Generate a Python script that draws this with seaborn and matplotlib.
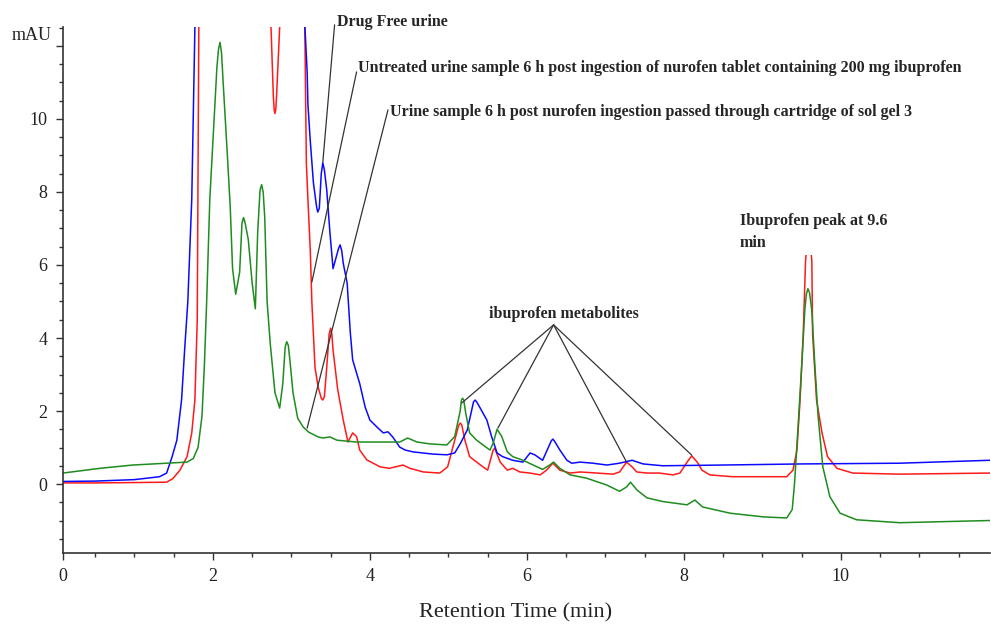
import matplotlib
matplotlib.use('Agg')
import matplotlib.pyplot as plt
from matplotlib.ticker import MultipleLocator
import seaborn as sns

# retention time (min) and absorbance (mAU)
# values far above 12.5 are off scale (clipped at the top of the axis)
t_free = [0.09, 0.5, 1.0, 1.32, 1.41, 1.48, 1.54, 1.60, 1.64, 1.68, 1.73, 1.77, 1.80, 2.45,
          3.12, 3.17, 3.20, 3.21, 3.24, 3.28, 3.32, 3.335, 3.355, 3.38, 3.40, 3.42, 3.45,
          3.49, 3.53, 3.60, 3.62, 3.64, 3.66,
          3.71, 3.75, 3.78, 3.87, 3.94, 4.00, 4.09, 4.17, 4.23, 4.29, 4.38, 4.45, 4.55, 4.80,
          4.98, 5.08, 5.15, 5.24, 5.32, 5.34, 5.36, 5.40, 5.49, 5.55, 5.62, 5.69, 5.82, 5.95,
          6.04, 6.10, 6.20, 6.31, 6.33, 6.35, 6.42, 6.51, 6.57, 6.68, 6.84, 7.02, 7.18, 7.34,
          7.48, 7.73, 8.5, 9.5, 10.75, 11.9]
mau_free = [0.07, 0.08, 0.12, 0.2, 0.3, 0.75, 1.2, 2.3, 3.7, 5.0, 7.8, 12.5, 20, 60,
            20, 12.6, 11.3, 10.4, 9.4, 8.25, 7.6, 7.45, 7.55, 8.5, 8.8, 8.6, 8.05,
            6.9, 5.9, 6.45, 6.55, 6.4, 6.05,
            5.5, 4.15, 3.4, 2.75, 2.1, 1.75, 1.56, 1.4, 1.43, 1.29, 1.01, 0.93, 0.88, 0.82,
            0.8, 0.85, 1.1, 1.48, 2.25, 2.3, 2.25, 2.1, 1.75, 1.3, 0.85, 0.75, 0.65, 0.6,
            0.85, 0.8, 0.65, 1.18, 1.23, 1.18, 0.93, 0.65, 0.57, 0.6, 0.57, 0.52, 0.57, 0.65,
            0.55, 0.5, 0.52, 0.55, 0.57, 0.65]

t_untreated = [0.09, 0.5, 1.0, 1.41, 1.49, 1.58, 1.67, 1.73, 1.77, 1.80, 1.82, 1.85, 2.3,
               2.71, 2.74, 2.77, 2.78, 2.79, 2.80, 2.81, 2.85, 2.88, 3.0, 3.14, 3.17, 3.19,
               3.21, 3.24, 3.26, 3.30, 3.34, 3.38, 3.40, 3.42, 3.45, 3.48, 3.50, 3.515, 3.53,
               3.59, 3.66, 3.72, 3.78, 3.83, 3.87,
               3.96, 4.13, 4.25, 4.42, 4.51, 4.68, 4.89, 4.99, 5.08, 5.13, 5.15, 5.17, 5.21,
               5.27, 5.36, 5.44, 5.50, 5.57, 5.59, 5.66, 5.75, 5.82, 5.91, 6.04, 6.17, 6.25,
               6.33, 6.42, 6.55, 6.68, 6.89, 7.10, 7.18, 7.27, 7.34, 7.40, 7.53, 7.69, 7.86,
               7.95, 8.04, 8.10, 8.17, 8.23, 8.33, 8.62, 9.31, 9.39, 9.44, 9.48, 9.52, 9.55,
               9.59, 9.63, 9.64, 9.69, 9.76, 9.83, 9.95, 10.15, 10.75, 11.9]
mau_untreated = [0.03, 0.03, 0.04, 0.05, 0.15, 0.38, 0.75, 1.4, 2.3, 4.5, 12.5, 25, 60,
                 25, 12.5, 10.6, 10.25, 10.15, 10.25, 10.6, 12.5, 25, 50, 25, 12.6, 8.8,
                 7.8, 6.4, 5.0, 3.2, 2.66, 2.35, 2.3, 2.4, 3.2, 4.1, 4.27, 4.1, 3.67,
                 2.58, 1.75, 1.15, 1.4, 1.3, 0.93,
                 0.66, 0.47, 0.43, 0.52, 0.43, 0.33, 0.3, 0.47, 1.2, 1.6, 1.67, 1.62, 1.2,
                 0.75, 0.6, 0.47, 0.38, 0.93, 0.98, 0.6, 0.38, 0.43, 0.33, 0.3, 0.25, 0.38,
                 0.57, 0.38, 0.3, 0.33, 0.3, 0.27, 0.33, 0.6, 0.47, 0.33, 0.3, 0.3, 0.25,
                 0.3, 0.6, 0.77, 0.6, 0.38, 0.25, 0.2, 0.2, 0.38, 0.93, 2.3, 4.1, 6.1,
                 7.2, 6.1, 4.1, 2.3, 1.4, 0.75, 0.43, 0.3, 0.27, 0.3]

t_solgel = [0.09, 0.56, 0.98, 1.41, 1.67, 1.75, 1.81, 1.86, 1.89, 1.92, 1.96, 2.00, 2.05,
            2.07, 2.09, 2.11, 2.13, 2.18, 2.22, 2.25, 2.29, 2.34, 2.37, 2.39, 2.41, 2.45,
            2.50, 2.54, 2.57, 2.60, 2.62, 2.64, 2.66, 2.69, 2.73, 2.79, 2.85, 2.89, 2.92,
            2.94, 2.96, 2.98, 3.02, 3.08, 3.15, 3.22, 3.34,
            3.40, 3.49, 3.58, 3.83, 4.38, 4.48, 4.60, 4.76, 4.98, 5.08, 5.15, 5.165, 5.18,
            5.195, 5.22, 5.27, 5.36, 5.44, 5.53, 5.57, 5.62, 5.68, 5.75, 5.82, 5.95, 6.08,
            6.20, 6.29, 6.34, 6.42, 6.55, 6.76, 7.02, 7.18, 7.27, 7.32, 7.40, 7.53, 7.73,
            8.04, 8.14, 8.24, 8.59, 9.01, 9.31, 9.38, 9.41, 9.45, 9.50, 9.54, 9.56, 9.58,
            9.60, 9.63, 9.67, 9.71, 9.77, 9.86, 9.99, 10.20, 10.75, 11.9]
mau_solgel = [0.3, 0.43, 0.52, 0.57, 0.6, 0.7, 1.0, 1.85, 3.2, 5.0, 7.8, 9.4, 11.4,
              11.9, 12.1, 11.8, 11.0, 9.15, 7.6, 5.9, 5.2, 5.8, 7.15, 7.3, 7.15, 6.7,
              5.5, 4.8, 6.9, 8.05, 8.2, 8.0, 7.3, 5.0, 3.85, 2.5, 2.08, 2.75, 3.75,
              3.9, 3.8, 3.4, 2.5, 1.8, 1.56, 1.42, 1.29,
              1.26, 1.29, 1.2, 1.15, 1.15, 1.26, 1.15, 1.1, 1.07, 1.3, 2.0, 2.3, 2.35,
              2.3, 1.95, 1.4, 1.2, 1.07, 0.93, 1.12, 1.5, 1.3, 0.88, 0.75, 0.65, 0.52,
              0.4, 0.52, 0.6, 0.43, 0.25, 0.16, -0.03, -0.2, -0.08, 0.05, -0.16, -0.38, -0.48,
              -0.57, -0.44, -0.63, -0.8, -0.9, -0.93, -0.7, 0.03, 1.4, 3.2, 4.75, 5.2, 5.35,
              5.25, 4.75, 3.2, 1.85, 0.47, -0.35, -0.8, -0.98, -1.06, -1.0]

# callouts: (text, text x, text y, line start, line end)
sample_labels = ['Drug Free urine',
                 'Untreated urine sample 6 h post ingestion of nurofen tablet containing 200 mg ibuprofen',
                 'Urine sample 6 h post nurofen ingestion passed through cartridge of sol gel 3']
label_xy = [(3.58, 12.66), (3.85, 11.40), (4.25, 10.19)]
label_line_from = [(3.55, 12.58), (3.83, 11.29), (4.23, 10.25)]
label_line_to = [(3.40, 8.82), (3.26, 5.53), (3.20, 1.53)]

metab_apex = (6.34, 4.36)
metab_peaks = [(5.17, 2.22), (5.63, 1.53), (7.27, 0.60), (8.10, 0.79)]

sns.set_style('ticks')
plt.rcParams['font.family'] = ['Liberation Serif', 'DejaVu Serif']

fig = plt.figure(figsize=(9.91, 6.25), dpi=100)
ax = fig.add_axes([0.0636, 0.1152, 0.9354, 0.8416])

sns.lineplot(x=t_untreated, y=mau_untreated, color='#ff1a1a', lw=1.1, ax=ax)
sns.lineplot(x=t_free, y=mau_free, color='#0a0aff', lw=1.1, ax=ax)
sns.lineplot(x=t_solgel, y=mau_solgel, color='#1e8c1e', lw=1.1, ax=ax)

ax.set_xlim(0.09, 11.9)
ax.set_ylim(-1.89, 12.52)
sns.despine(ax=ax)
for sp in ['left', 'bottom']:
    ax.spines[sp].set_color('#333333')
    ax.spines[sp].set_linewidth(1.2)

ax.set_xticks([0.09, 2, 4, 6, 8, 10], ['0', '2', '4', '6', '8', '10'])
ax.xaxis.set_minor_locator(MultipleLocator(0.5))
ax.set_yticks([0, 2, 4, 6, 8, 10, 12], ['0', '2', '4', '6', '8', '10', ''])
ax.yaxis.set_minor_locator(MultipleLocator(0.5))
ax.tick_params(which='major', length=5, width=1, color='#333333', labelsize=13,
               labelcolor='#222222', pad=6)
ax.tick_params(which='minor', length=3, width=1, color='#333333')

ax.set_xlabel('Retention Time (min)', fontsize=16, color='#222222')
ax.xaxis.set_label_coords(0.488, -0.095)
ax.set_ylabel('')
fig.text(12 / 991, 1 - 35 / 625, 'mAU', fontsize=13, color='#222222', ha='left', va='center')

line_kw = dict(arrowstyle='-', color='#333333', lw=0.9, shrinkA=0, shrinkB=0)
for txt, (tx, ty), p0, p1 in zip(sample_labels, label_xy, label_line_from, label_line_to):
    ax.annotate('', xy=p1, xytext=p0, arrowprops=line_kw, annotation_clip=False)
    ax.text(tx, ty, txt, fontsize=11.5, fontweight='bold', ha='left', va='center',
            clip_on=False, zorder=5)

for p in metab_peaks:
    ax.annotate('', xy=p, xytext=metab_apex, arrowprops=line_kw)
ax.text(6.47, 4.66, 'ibuprofen metabolites', fontsize=11.5, fontweight='bold',
        ha='center', va='center', zorder=5)

ax.text(8.71, 7.42, 'Ibuprofen peak at 9.6\nmin', fontsize=11.5, fontweight='bold',
        ha='left', va='top', linespacing=1.5, zorder=5,
        bbox=dict(fc='white', ec='none', pad=3))

fig.savefig('out.png', dpi=100)
